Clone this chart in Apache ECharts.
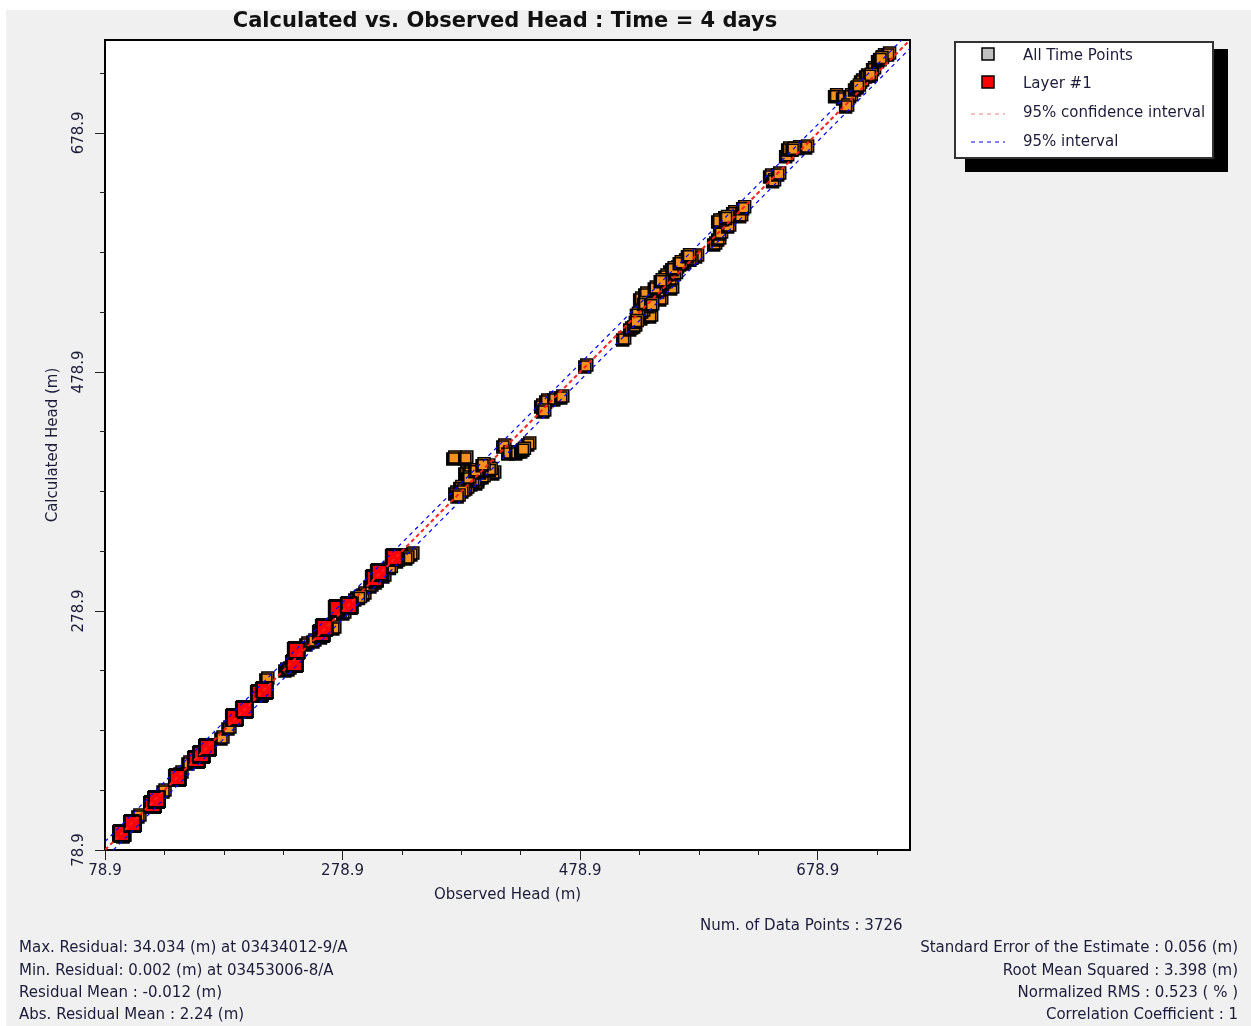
<!DOCTYPE html>
<html lang="en">
<head>
    <meta charset="UTF-8">
    <title>Calculated vs. Observed Head</title>
    <script src="https://cdn.jsdelivr.net/npm/echarts@6/dist/echarts.min.js"></script>
    <style>
        html, body { margin: 0; padding: 0; background: #fff; }
        #main { position: absolute; left: 6px; top: 10px; width: 1245px; height: 1016px; background: #f0f0f0; }
    </style>
</head>
<body>
<div id="main"></div>
<script>
    // axis range and tick values (same scale on both axes)
    var axisMin = 78.9;
    var axisMax = 756.6;
    var majorTicks = [78.9, 278.9, 478.9, 678.9];
    var minorTicks = [128.9, 178.9, 228.9, 328.9, 378.9, 428.9, 528.9, 578.9, 628.9, 728.9];

    // [observed, calculated] - all time points (orange)
    var allTimePoints = [
        [95.7, 91.5], [108.3, 108.2], [129.4, 129.1], [143.7, 144.2], [150.4, 152.5],
        [167.2, 166.8], [178.2, 173.5], [184.1, 181.8], [216.0, 222.8], [232.0, 230.4],
        [234.6, 231.2], [249.7, 252.1], [255.6, 254.6], [272.4, 265.5], [280.8, 278.1],
        [290.9, 289.8], [297.7, 294.0], [303.6, 300.7], [314.5, 309.0], [331.3, 325.8],
        [338.1, 327.4], [333.8, 324.1], [326.0, 321.5], [320.0, 316.0], [286.0, 284.0],
        [294.0, 291.0], [308.0, 304.0], [262.0, 258.0],
        [373.4, 407.8], [383.5, 407.8], [383.5, 395.2], [387.0, 395.2], [407.0, 395.2],
        [400.3, 398.6], [388.5, 386.0], [392.7, 386.8], [384.3, 382.7], [375.1, 378.5],
        [394.4, 390.2], [398.0, 392.0], [402.0, 401.1], [379.3, 383.0], [390.0, 389.0],
        [381.0, 380.0], [377.0, 376.0], [396.0, 396.0], [404.0, 398.0], [386.0, 391.0],
        [392.0, 397.0], [398.0, 402.0],
        [415.5, 417.8], [419.7, 411.9], [426.4, 411.9], [430.6, 413.6], [436.5, 419.5], [432.0, 415.0],
        [447.4, 451.3], [451.6, 455.5], [458.4, 457.1], [464.3, 458.8], [449.1, 447.1],
        [484.5, 484.7],
        [516.4, 507.3], [522.3, 515.7], [525.7, 518.2], [531.6, 524.9], [539.1, 526.6],
        [532.4, 530.8], [537.5, 535.0], [530.7, 540.8], [541.7, 541.7], [547.6, 540.8],
        [545.9, 547.5], [556.8, 550.0], [550.1, 554.2], [556.0, 557.5], [562.7, 568.4],
        [566.9, 570.9], [569.4, 574.3], [577.8, 576.8], [556.0, 564.2], [528.0, 528.0],
        [535.0, 545.0], [543.0, 550.0], [552.0, 560.0], [560.0, 562.0], [573.0, 574.0],
        [527.0, 522.0], [534.0, 537.0], [540.0, 536.0], [548.0, 556.0], [558.0, 566.0],
        [564.0, 571.0], [571.0, 577.0],
        [593.0, 586.8], [596.4, 591.0], [598.0, 596.0], [604.8, 601.9], [600.6, 607.8],
        [609.0, 612.8], [614.9, 610.3], [617.4, 617.0], [596.4, 606.1], [603.0, 609.0],
        [640.1, 643.7], [642.6, 639.6], [646.9, 645.4], [653.6, 660.5], [655.3, 666.3],
        [663.7, 667.2], [670.4, 668.0], [659.0, 666.0],
        [694.8, 710.7], [701.5, 709.0], [707.4, 710.7], [704.1, 702.3], [711.6, 716.5],
        [716.7, 723.2], [720.9, 727.4], [726.8, 733.3], [731.0, 740.0], [735.2, 744.2],
        [739.4, 745.8], [724.0, 728.0], [733.0, 742.0], [714.0, 719.0]
    ];

    // [observed, calculated] - layer #1 (red)
    var layer1Points = [
        [93.2, 93.1], [102.5, 101.5], [119.3, 117.4], [122.7, 121.6], [140.3, 140.0],
        [156.3, 155.0], [160.5, 159.2], [165.6, 165.1], [188.3, 190.2], [196.7, 196.9],
        [209.3, 210.3], [213.5, 212.8], [238.8, 235.4], [240.4, 246.3], [261.5, 260.5],
        [264.0, 265.5], [274.9, 281.4], [285.0, 283.9], [306.1, 306.5], [310.3, 311.5],
        [322.9, 324.1]
    ];

    // interval lines, end points [observed, calculated]
    var confUpper = [[78.9, 79.4], [756.1, 756.6]];
    var confLower = [[79.4, 78.9], [756.6, 756.1]];
    var predUpper = [[78.9, 85.9], [749.6, 756.6]];
    var predLower = [[85.9, 78.9], [756.6, 749.6]];

    var statsLeft = [
        'Max. Residual: 34.034 (m) at 03434012-9/A',
        'Min. Residual: 0.002 (m) at 03453006-8/A',
        'Residual Mean : -0.012 (m)',
        'Abs. Residual Mean : 2.24 (m)'
    ];
    var statsRight = [
        'Standard Error of the Estimate : 0.056 (m)',
        'Root Mean Squared : 3.398 (m)',
        'Normalized RMS : 0.523 ( % )',
        'Correlation Coefficient : 1'
    ];

    var font = 'DejaVu Sans';
    var txtColor = '#1c1c3a';
    var chart = echarts.init(document.getElementById('main'));

    function isMajor(v) {
        for (var i = 0; i < majorTicks.length; i++) {
            if (Math.abs(v - majorTicks[i]) < 0.01) return true;
        }
        return false;
    }

    function mainAxis(isY) {
        return {
            type: 'value',
            min: axisMin,
            max: axisMax,
            position: isY ? 'left' : 'bottom',
            name: isY ? 'Calculated Head (m)' : 'Observed Head (m)',
            nameLocation: 'middle',
            nameGap: isY ? 44 : 38,
            nameRotate: isY ? 90 : 0,
            nameTextStyle: {fontFamily: font, fontSize: 15, color: txtColor},
            axisLine: {show: true, lineStyle: {color: '#000', width: 2}},
            axisTick: {show: true, length: 10, customValues: majorTicks, lineStyle: {color: '#222'}},
            axisLabel: {
                customValues: majorTicks,
                rotate: isY ? 90 : 0,
                margin: isY ? 18 : 14,
                fontFamily: font, fontSize: 15, color: txtColor,
                formatter: function (v) { return isMajor(v) ? v.toFixed(1) : ''; }
            },
            splitLine: {show: false}
        };
    }

    function minorAxis(isY) {
        return {
            type: 'value',
            min: axisMin,
            max: axisMax,
            position: isY ? 'left' : 'bottom',
            axisLine: {show: false},
            axisTick: {show: true, length: 5, customValues: minorTicks, lineStyle: {color: '#222'}},
            axisLabel: {show: false},
            splitLine: {show: false}
        };
    }

    var f15 = '15px "' + font + '"';
    var graphics = [
        {type: 'text', x: 499, y: 1, style: {text: 'Calculated vs. Observed Head : Time = 4 days', font: 'bold 21px "' + font + '"', fill: '#111', textAlign: 'center', textShadowColor: 'rgba(0,0,0,0.25)', textShadowOffsetX: 1, textShadowOffsetY: 1}},
        // legend box with shadow
        {type: 'rect', shape: {x: 959, y: 39, width: 263, height: 123}, style: {fill: '#000'}},
        {type: 'rect', shape: {x: 949, y: 32, width: 258, height: 116}, style: {fill: '#fff', stroke: '#333', lineWidth: 2}},
        {type: 'rect', shape: {x: 976, y: 38, width: 12, height: 12}, style: {fill: '#c0c0c0', stroke: '#000', lineWidth: 1.5}},
        {type: 'text', x: 1017, y: 39, style: {text: 'All Time Points', font: f15, fill: txtColor}},
        {type: 'rect', shape: {x: 976, y: 66, width: 12, height: 12}, style: {fill: '#ff0000', stroke: '#000', lineWidth: 1.5}},
        {type: 'text', x: 1017, y: 67, style: {text: 'Layer #1', font: f15, fill: txtColor}},
        {type: 'line', shape: {x1: 965, y1: 104, x2: 999, y2: 104}, style: {stroke: '#ff8080', lineWidth: 1, lineDash: [4, 4]}},
        {type: 'text', x: 1017, y: 96, style: {text: '95% confidence interval', font: f15, fill: txtColor}},
        {type: 'line', shape: {x1: 965, y1: 132, x2: 999, y2: 132}, style: {stroke: '#0000ff', lineWidth: 1, lineDash: [4, 4]}},
        {type: 'text', x: 1017, y: 125, style: {text: '95% interval', font: f15, fill: txtColor}},
        {type: 'text', x: 694, y: 909, style: {text: 'Num. of Data Points : 3726', font: f15, fill: txtColor}}
    ];
    statsLeft.forEach(function (t, i) {
        graphics.push({type: 'text', x: 13, y: 931 + i * 22.3, style: {text: t, font: f15, fill: txtColor}});
    });
    statsRight.forEach(function (t, i) {
        graphics.push({type: 'text', x: 1232, y: 931 + i * 22.3, style: {text: t, font: f15, fill: txtColor, textAlign: 'right'}});
    });

    function dashed(name, data, color, dash) {
        return {
            name: name, type: 'line', data: data, symbol: 'none', z: 5, silent: true,
            lineStyle: {color: color, width: 1.2, type: dash}
        };
    }

    var option = {
        animation: false,
        grid: {
            left: 99, top: 30, right: 341, bottom: 176,
            show: true, backgroundColor: '#fff', borderColor: '#000', borderWidth: 2
        },
        xAxis: [mainAxis(false), minorAxis(false)],
        yAxis: [mainAxis(true), minorAxis(true)],
        graphic: graphics,
        series: [
            {
                name: 'All Time Points', type: 'scatter', data: allTimePoints,
                symbol: 'rect', symbolSize: 12, z: 2,
                itemStyle: {
                    color: '#f5921e', borderColor: '#000', borderWidth: 1.5, opacity: 1,
                    shadowColor: '#000', shadowBlur: 0, shadowOffsetX: -2, shadowOffsetY: 2
                }
            },
            {
                name: 'Layer #1', type: 'scatter', data: layer1Points,
                symbol: 'rect', symbolSize: 16, z: 3,
                itemStyle: {
                    color: '#ff0000', borderColor: '#000', borderWidth: 2, opacity: 1,
                    shadowColor: '#000', shadowBlur: 0, shadowOffsetX: -1, shadowOffsetY: 1
                }
            },
            dashed('95% confidence interval', confUpper, '#ff2020', [4, 3]),
            dashed('95% confidence interval', confLower, '#ff2020', [4, 3]),
            dashed('95% interval', predUpper, '#0000ff', [4, 4]),
            dashed('95% interval', predLower, '#0000ff', [4, 4])
        ]
    };
    chart.setOption(option);
</script>
</body>
</html>
